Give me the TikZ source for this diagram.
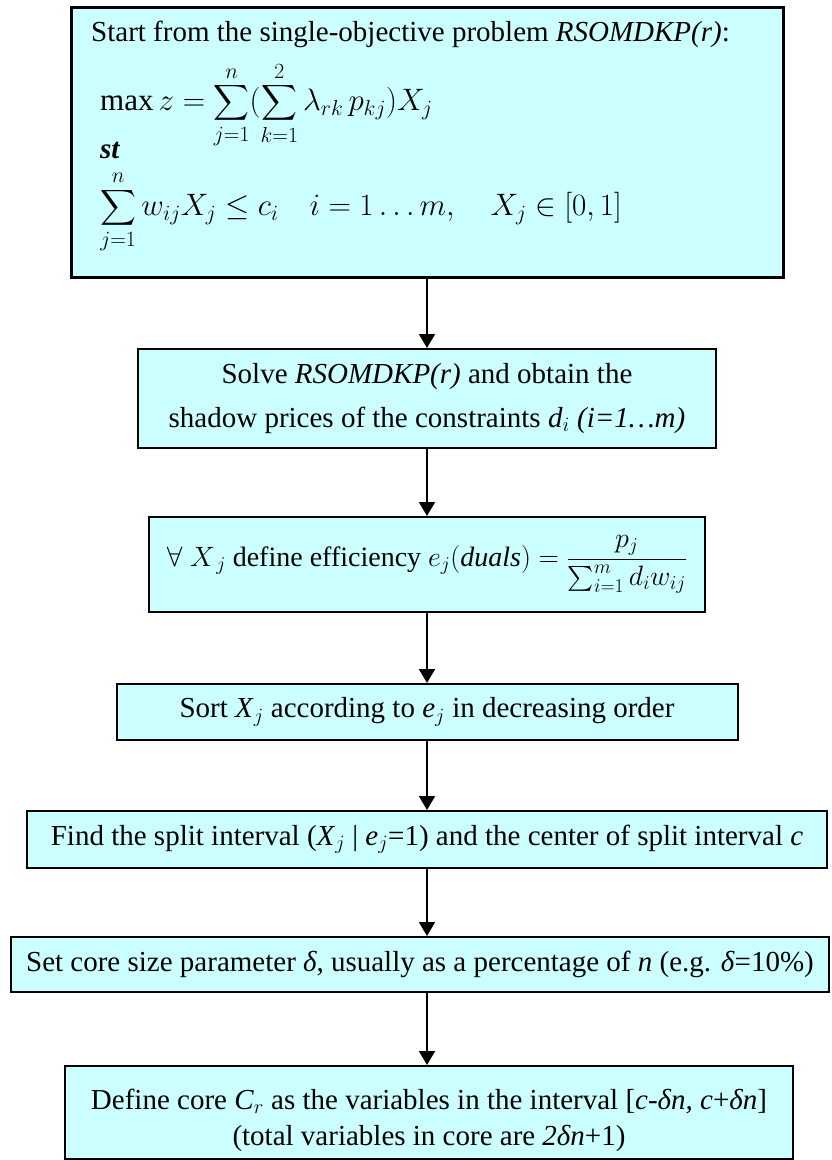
\RequirePackage{fix-cm}
\documentclass[tikz,border=0pt]{standalone}
\usepackage{amsmath}
\usepackage{fontspec}
\setmainfont{Liberation Serif}
\usepackage{xcolor}
\usetikzlibrary{arrows.meta}
\definecolor{StepCyan}{HTML}{CCFFFF}

\begin{document}
\begin{tikzpicture}[
    x=1pt, y=-1pt,
    stepbox/.style={draw=black, line width=2pt, fill=StepCyan, inner sep=0pt,
      align=center, font=\fontsize{29}{38}\selectfont},
    textline/.style={inner sep=0pt, anchor=west, font=\fontsize{29}{38}\selectfont},
    mathline/.style={inner sep=0pt, anchor=west, font=\fontsize{31}{38}\selectfont},
    flow/.style={draw=black, line width=2pt, -{Triangle[length=14pt,width=16pt]}}
  ]
    \useasboundingbox (0,0) rectangle (831,1160);
    % first step: the problem, lines set left inside the box
    \node[stepbox, line width=3pt, minimum width=712pt, minimum height=270pt] (start) at (427,142) {};
    \node[textline] (task) at (91,34) {Start from the single-objective problem \textit{RSOMDKP(r)}:};
    \node[mathline] (objective) at (100,105)
      {$\displaystyle\max z=\sum_{j=1}^{n}(\sum_{k=1}^{2}\lambda_{rk}\,p_{kj})X_{j}$};
    \node[textline] (subj) at (100,150) {\textbf{\textit{st}}};
    \node[mathline] (constr) at (100,212)
      {$\displaystyle\sum_{j=1}^{n}w_{ij}X_{j}\le c_{i}\quad i=1\ldots m,\quad X_{j}\in[0,1]$};
    \node[stepbox, minimum width=578pt, minimum height=99pt] (solve) at (427,398.5)
      {Solve \textit{RSOMDKP(r)} and obtain the\\[6pt]
       shadow prices of the constraints \textit{d}$_{i}$ \textit{(i=1\ldots m)}};
    \node[stepbox, minimum width=556pt, minimum height=95pt, font=\fontsize{28}{36}\selectfont] (effic) at (427,564.5)
      {$\forall\;X_{\,j}$ define efficiency $e_{j}(\mathit{duals})=\dfrac{p_{j}}{\sum_{i=1}^{m}d_{i}w_{ij}}$};
    \node[stepbox, minimum width=621pt, minimum height=56pt] (sort) at (427,712)
      {Sort \textit{X}$_{j}$ according to \textit{e}$_{j}$ in decreasing order};
    \node[stepbox, minimum width=800pt, minimum height=57pt] (split) at (427,839.5)
      {Find the split interval (\textit{X}$_{j}$ | \textit{e}$_{j}$=1) and the center of split interval \textit{c}};
    \node[stepbox, minimum width=818pt, minimum height=55pt] (delta) at (420,964.5)
      {Set core size parameter \textit{δ}, usually as a percentage of \textit{n} (e.g. \textit{δ}=10\%)};
    \node[stepbox, minimum width=728pt, minimum height=93pt] (core) at (429,1112.5)
      {\rule{0pt}{36pt}Define core \textit{C}$_{r}$ as the variables in the interval [\textit{c-δn, c}+\textit{δn}]\\[-2pt]
       (total variables in core are \textit{2δn}+1)};
    % arrows between the steps
    \draw[flow] (start) -- (solve);
    \draw[flow] (solve) -- (effic);
    \draw[flow] (effic) -- (sort);
    \draw[flow] (sort) -- (split);
    \draw[flow] (split) -- (split |- delta.north);
    \draw[flow] (split |- delta.south) -- (split |- core.north);
\end{tikzpicture}
\end{document}
